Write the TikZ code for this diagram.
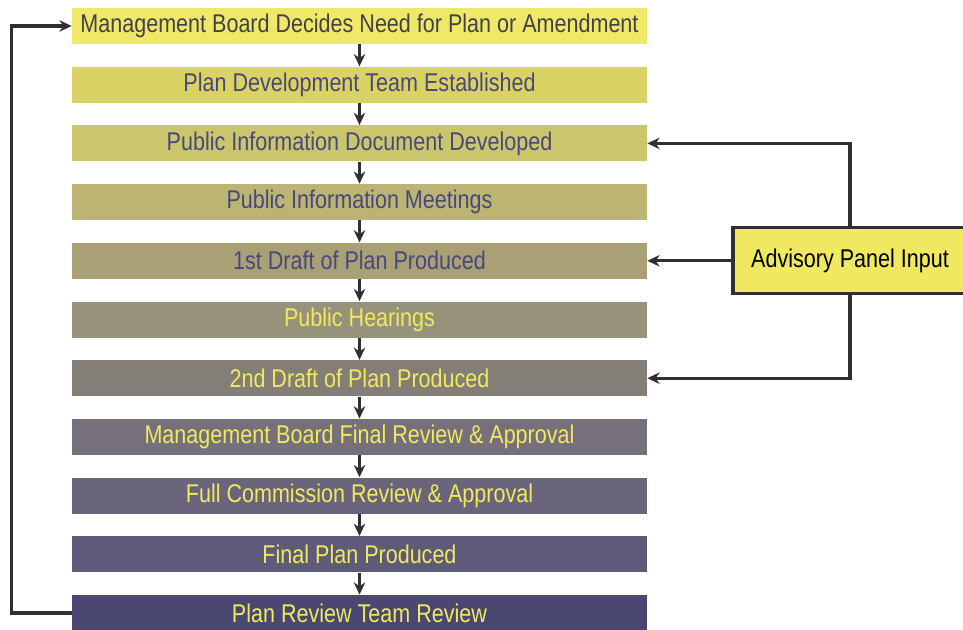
\documentclass[tikz,border=0pt]{standalone}
\usepackage{fontspec}
\setmainfont{Liberation Sans}[FakeStretch=0.84]
\usetikzlibrary{arrows.meta}

\definecolor{stepA}{RGB}{240,232,104}
\definecolor{stepB}{RGB}{218,210,98}
\definecolor{stepC}{RGB}{203,197,108}
\definecolor{stepD}{RGB}{187,180,114}
\definecolor{stepE}{RGB}{169,160,118}
\definecolor{stepF}{RGB}{151,146,124}
\definecolor{stepG}{RGB}{132,126,120}
\definecolor{stepH}{RGB}{118,112,124}
\definecolor{stepI}{RGB}{106,100,124}
\definecolor{stepJ}{RGB}{94,90,122}
\definecolor{stepK}{RGB}{74,72,114}
\definecolor{txtDark}{RGB}{68,66,72}
\definecolor{txtBlue}{RGB}{72,72,124}
\definecolor{txtYellow}{RGB}{240,234,92}
\definecolor{panelFill}{RGB}{240,232,96}
\definecolor{lineGray}{RGB}{48,48,50}

\begin{document}
\begin{tikzpicture}[x=0.02cm, y=-0.02cm, >={Stealth[length=7pt,width=6.5pt]},
  bar/.style={minimum width=11.5cm, minimum height=0.72cm, inner sep=0pt,
    font=\fontsize{14.6}{16}\selectfont},
  panel/.style={draw=lineGray, line width=1.8pt, fill=panelFill, minimum width=4.68cm,
    minimum height=1.32cm, inner sep=0pt, font=\fontsize{14.6}{16}\selectfont},
  link/.style={->, draw=lineGray, line width=1.8pt}]
  \useasboundingbox (0,0) rectangle (963,629);

  % the eleven steps
  \foreach \i/\fc/\tc/\txt in {
      1/stepA/txtDark/{Management Board Decides Need for Plan or Amendment},
      2/stepB/txtBlue/{Plan Development Team Established},
      3/stepC/txtBlue/{Public Information Document Developed},
      4/stepD/txtBlue/{Public Information Meetings},
      5/stepE/txtBlue/{1st Draft of Plan Produced},
      6/stepF/txtYellow/{Public Hearings},
      7/stepG/txtYellow/{2nd Draft of Plan Produced},
      8/stepH/txtYellow/{Management Board Final Review \& Approval},
      9/stepI/txtYellow/{Full Commission Review \& Approval},
      10/stepJ/txtYellow/{Final Plan Produced},
      11/stepK/txtYellow/{Plan Review Team Review}}
    \node[bar, fill=\fc, text=\tc] (b\i) at (359.5, {26+58.7*(\i-1)}) {\txt};

  \foreach \i [evaluate=\i as \j using int(\i+1)] in {1,...,10}
    \draw[link] (b\i) -- (b\j);

  % advisory panel
  \node[panel] (adv) at (850,260.8) {Advisory Panel Input};
  \draw[link] (adv.north) |- (b3.east);
  \draw[link] (adv.west) -- (b5.east);
  \draw[link] (adv.south) |- (b7.east);

  % loop back to the top
  \draw[link] (b11.west) -- ++(-60,0) |- (b1.west);
\end{tikzpicture}
\end{document}
